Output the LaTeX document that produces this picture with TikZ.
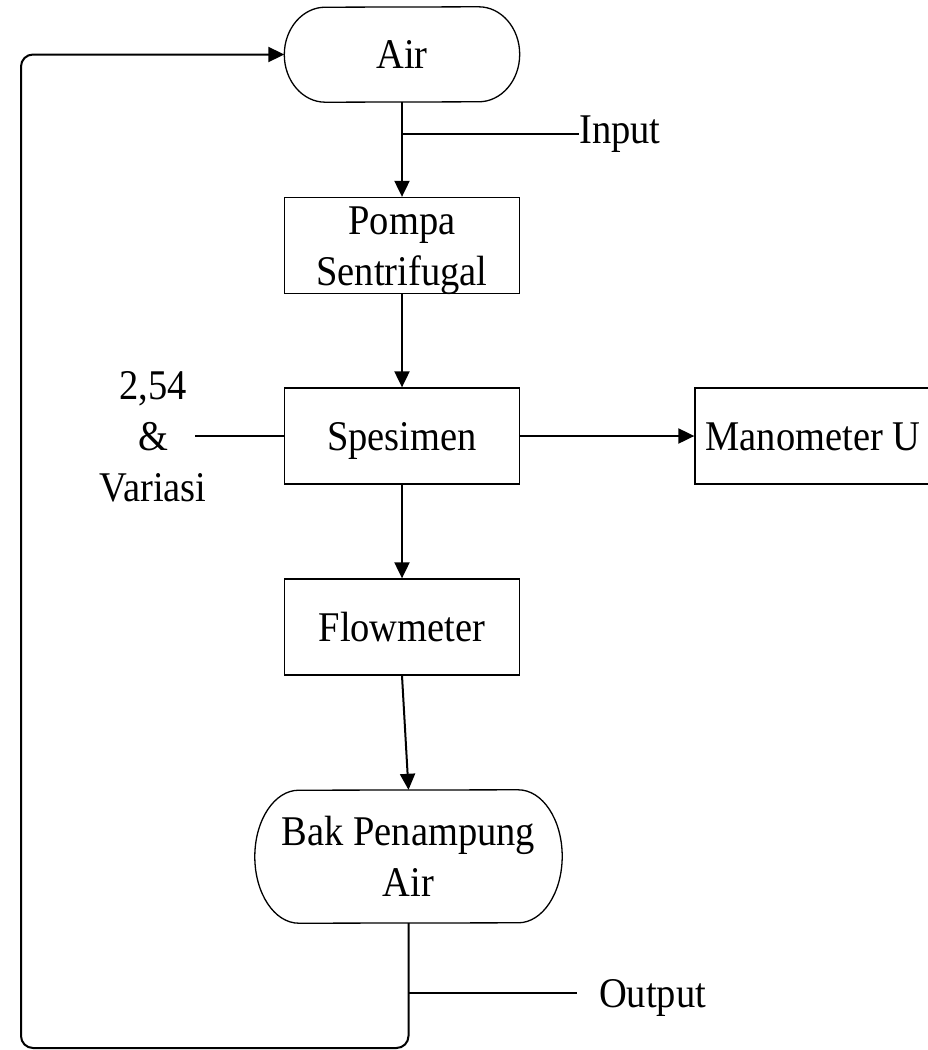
\documentclass[tikz,border=0pt]{standalone}
\usepackage{fontspec}
\setmainfont{Liberation Serif}[FakeStretch=0.91]
\usetikzlibrary{arrows.meta}
\newcommand{\twoline}[2]{\begin{tabular}[b]{@{}c@{}}#1\\#2\end{tabular}}
\newcommand{\threeline}[3]{\begin{tabular}[b]{@{}c@{}}#1\\#2\\#3\end{tabular}}
\begin{document}
\begin{tikzpicture}[x=1pt,y=-1pt,
  font=\fontsize{42.3}{51}\selectfont,
  box/.style={draw, line width=1.3pt, minimum width=235pt, minimum height=96pt, inner sep=0pt, text height=28pt, text depth=0pt},
  box2/.style={box, text height=79pt},
  term/.style={inner sep=0pt, text height=79pt, text depth=0pt},
  outline/.style={line width=1.3pt},
  arr/.style={line width=2pt, -{Triangle[length=16pt,width=15pt]}},
  ln/.style={line width=2pt},
  lbl/.style={inner sep=0pt}]
\useasboundingbox (0,0) rectangle (928,1050);

% terminator: Air
\node[term, minimum width=235pt, minimum height=95pt, text height=28pt] (air) at (402,54.5) {Air};
\draw[outline] ([xshift=-41pt]air.north east) arc[start angle=90, end angle=-90, x radius=41pt, y radius=47.5pt]
  -- ([xshift=41pt]air.south west) arc[start angle=270, end angle=90, x radius=41pt, y radius=47.5pt] -- cycle;

\node[box2] (pompa) at (402,245.5) {\twoline{Pompa}{Sentrifugal}};
\node[box] (spes) at (402,436) {Spesimen};
\node[box, minimum width=236pt] (mano) at (813,436) {Manometer U};
\node[box] (flow) at (402,627) {Flowmeter};

% terminator: Bak Penampung Air
\node[term, minimum width=307pt, minimum height=133pt] (bak) at (408.5,856.5) {\twoline{Bak Penampung}{Air}};
\draw[outline] ([xshift=-44pt]bak.north east) arc[start angle=90, end angle=-90, x radius=44pt, y radius=66.5pt]
  -- ([xshift=44pt]bak.south west) arc[start angle=270, end angle=90, x radius=44pt, y radius=66.5pt] -- cycle;

\node[lbl, text height=130pt, text depth=0pt] (var) at (153,436) {\threeline{2,54}{\&}{Variasi}};
\node[lbl, anchor=base west] (inp) at (579,143) {Input};
\node[lbl, anchor=base west] (outp) at (599,1007) {Output};

\coordinate (inA) at (402,134);
\coordinate (vin) at (195,436);
\coordinate (outA) at (408.5,993);
\coordinate (lb) at (21,1048);

\draw[arr] (air.south) -- (pompa.north);
\draw[ln] (inA) -- (inA -| inp.west);
\draw[arr] (pompa.south) -- (spes.north);
\draw[ln] (vin) -- (spes.west);
\draw[arr] (spes.east) -- (mano.west);
\draw[arr] (spes.south) -- (flow.north);
\draw[arr] (flow.south) -- (bak.north);
\draw[ln] (outA) -- ([xshift=-22pt]outA -| outp.west);
\draw[arr, rounded corners=12pt] (bak.south) |- (lb) |- (air.west);
\end{tikzpicture}
\end{document}
